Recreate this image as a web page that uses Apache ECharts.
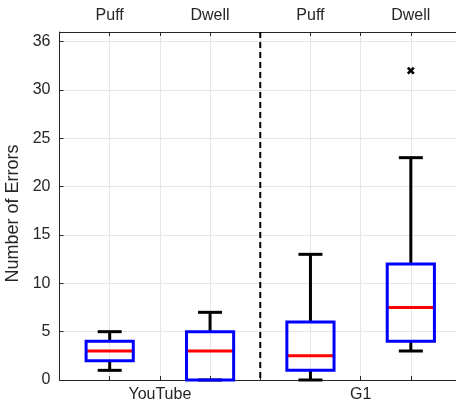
<!DOCTYPE html>
<html>
<head>
<meta charset="utf-8">
<script src="https://cdn.jsdelivr.net/npm/echarts@6/dist/echarts.min.js"></script>
<style>
html,body{margin:0;padding:0;background:#fff;}
#chart{width:456px;height:404px;}
</style>
</head>
<body>
<div id="chart"></div>
<script>
// Data
const groupNames = ['YouTube', 'G1'];
const groupCenters = [2, 6];
const conditionNames = ['Puff', 'Dwell', 'Puff', 'Dwell'];
const boxPositions = [1, 3, 5, 7];
const whiskerLow  = [1, 0, 0, 3];
const quartile1   = [2, 0, 1, 4];
const medians     = [3, 3, 2.5, 7.5];
const quartile3   = [4, 5, 6, 12];
const whiskerHigh = [5, 7, 13, 23];
const outlierX = [7];
const outlierY = [32];
const separatorX = [4];
const yTickValues = [0, 5, 10, 15, 20, 25, 30, 35];
const yTickLabels = ['0', '5', '10', '15', '20', '25', '30', '36'];

const FONT = '"Liberation Sans", Arial, Helvetica, sans-serif';
const TXT = '#262626';
const boxHalf = 0.47;
const capHalfPx = 12;

const boxData = boxPositions.map((x, i) => [x, whiskerLow[i], quartile1[i], medians[i], quartile3[i], whiskerHigh[i]]);
const outlierData = outlierX.map((x, i) => [x, outlierY[i]]);

function renderBox(params, api) {
  const x = api.value(0);
  const lo = api.coord([x, api.value(1)]);
  const q1 = api.coord([x, api.value(2)]);
  const md = api.coord([x, api.value(3)]);
  const q3 = api.coord([x, api.value(4)]);
  const hi = api.coord([x, api.value(5)]);
  const left = api.coord([x - boxHalf, 0])[0];
  const right = api.coord([x + boxHalf, 0])[0];
  const black = {stroke: '#000', lineWidth: 3, fill: null};
  return {
    type: 'group',
    children: [
      {type: 'line', shape: {x1: lo[0], y1: lo[1], x2: q1[0], y2: q1[1]}, style: black},
      {type: 'line', shape: {x1: q3[0], y1: q3[1], x2: hi[0], y2: hi[1]}, style: black},
      {type: 'line', shape: {x1: lo[0] - capHalfPx, y1: lo[1], x2: lo[0] + capHalfPx, y2: lo[1]}, style: black},
      {type: 'line', shape: {x1: hi[0] - capHalfPx, y1: hi[1], x2: hi[0] + capHalfPx, y2: hi[1]}, style: black},
      {type: 'line', shape: {x1: left, y1: md[1], x2: right, y2: md[1]}, style: {stroke: '#ff0000', lineWidth: 3}},
      {type: 'rect', shape: {x: left, y: q3[1], width: right - left, height: q1[1] - q3[1]},
        style: {stroke: '#0000ff', lineWidth: 3, fill: null}}
    ]
  };
}

function renderOutlier(params, api) {
  const p = api.coord([api.value(0), api.value(1)]);
  const s = 3;
  const st = {stroke: '#000', lineWidth: 2.6};
  return {
    type: 'group',
    children: [
      {type: 'line', shape: {x1: p[0] - s, y1: p[1] - s, x2: p[0] + s, y2: p[1] + s}, style: st},
      {type: 'line', shape: {x1: p[0] - s, y1: p[1] + s, x2: p[0] + s, y2: p[1] - s}, style: st}
    ]
  };
}

function renderSeparator(params, api) {
  const x = api.value(0);
  const top = api.coord([x, 36]);
  const bot = api.coord([x, 0]);
  return {
    type: 'line',
    shape: {x1: top[0], y1: top[1], x2: bot[0], y2: bot[1]},
    style: {stroke: '#000', lineWidth: 2, lineDash: [6, 4]}
  };
}

const chart = echarts.init(document.getElementById('chart'), null, {renderer: 'canvas'});
const axisCommon = {
  type: 'value', min: 0, max: 7.94, interval: 1,
  axisLine: {show: true, lineStyle: {color: TXT, width: 1}},
  axisTick: {show: true, inside: true, length: 4, lineStyle: {color: TXT}},
};
chart.setOption({
  animation: false,
  backgroundColor: '#fff',
  grid: {left: 59.5, top: 32, width: 398.5, height: 348, containLabel: false, outerBoundsMode: 'none'},
  xAxis: [
    Object.assign({}, axisCommon, {
      position: 'bottom',
      axisLabel: {
        color: TXT, fontFamily: FONT, fontSize: 16, margin: 7,
        formatter: v => { const i = groupCenters.indexOf(v); return i >= 0 ? groupNames[i] : ''; }
      },
      splitLine: {show: true, lineStyle: {color: '#e6e6e6', width: 1}}
    }),
    Object.assign({}, axisCommon, {
      position: 'top',
      axisLabel: {
        color: TXT, fontFamily: FONT, fontSize: 16, margin: 8,
        formatter: v => { const i = boxPositions.indexOf(v); return i >= 0 ? conditionNames[i] : ''; }
      },
      splitLine: {show: false}
    })
  ],
  yAxis: {
    type: 'value', min: 0, max: 36, interval: 5,
    name: 'Number of Errors', nameLocation: 'middle', nameGap: 30,
    nameTextStyle: {color: TXT, fontFamily: FONT, fontSize: 18, padding: [0, 15, 0, 0]},
    axisLine: {show: true, lineStyle: {color: TXT, width: 1}},
    axisTick: {show: true, inside: true, length: 4, lineStyle: {color: TXT}},
    axisLabel: {
      color: TXT, fontFamily: FONT, fontSize: 16, margin: 9,
      formatter: v => { const i = yTickValues.indexOf(v); return i >= 0 ? yTickLabels[i] : ''; }
    },
    splitLine: {show: true, lineStyle: {color: '#e6e6e6', width: 1}}
  },
  series: [
    {type: 'custom', xAxisIndex: 0, renderItem: renderSeparator, data: separatorX.map(x => [x]), encode: {x: 0}, clip: false, silent: true, z: 3},
    {type: 'custom', xAxisIndex: 0, renderItem: renderBox, data: boxData, encode: {x: 0, y: [1, 2, 3, 4, 5]}, clip: false, silent: true, z: 4},
    {type: 'custom', xAxisIndex: 0, renderItem: renderOutlier, data: outlierData, encode: {x: 0, y: 1}, clip: false, silent: true, z: 5}
  ]
});
</script>
</body>
</html>
